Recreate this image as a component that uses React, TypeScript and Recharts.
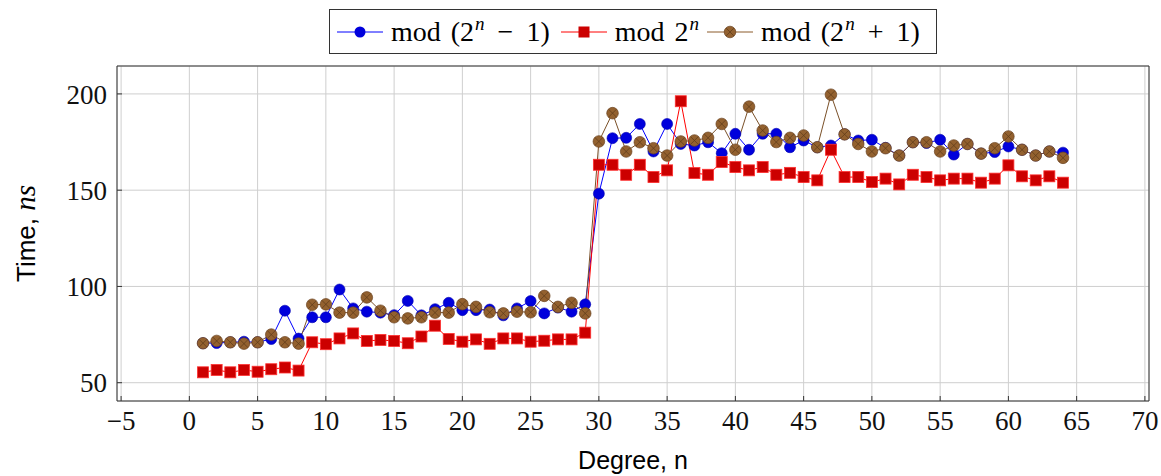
import { LineChart, Line, XAxis, YAxis, CartesianGrid } from 'recharts'

// degree n = 1..64
const degrees = [
  1, 2, 3, 4, 5, 6, 7, 8, 9, 10, 11, 12, 13, 14, 15, 16, 17, 18, 19, 20, 21, 22, 23, 24, 25, 26, 27, 28, 29, 30, 31, 32,
  33, 34, 35, 36, 37, 38, 39, 40, 41, 42, 43, 44, 45, 46, 47, 48, 49, 50, 51, 52, 53, 54, 55, 56, 57, 58, 59, 60, 61, 62, 63, 64,
]

// mod (2^n - 1)
const modMinus = [
  70.5, 70.6, 71, 71.3, 71, 72.7, 87.4, 72.9, 84, 84, 98.4, 88.6, 86.9, 86.4, 85.1, 92.5,
  85, 88.2, 91.5, 87.7, 87.7, 88, 85, 88.6, 92.4, 86, 89, 86.9, 90.7, 148.2, 177, 177.2,
  184.4, 170.1, 184.4, 174, 173.2, 174.9, 169.2, 179.3, 171, 179.3, 179.3, 172.3, 175.8, 172.3, 173.2, 179,
  175.8, 176.2, 172, 168, 174.9, 174.5, 176.2, 168.5, 174, 169, 169.8, 172.7, 171, 168, 170.1, 169.5,
]

// mod 2^n
const modPow = [
  55.4, 56.6, 55.4, 56.6, 55.7, 57, 57.9, 56.3, 71, 70, 73, 75.6, 71.7, 72.2, 71.7, 70.5,
  74, 79.6, 72.7, 71.3, 72.5, 70.2, 73, 73, 71.3, 71.8, 72.5, 72.5, 76, 163.2, 163.2, 158,
  163.2, 156.8, 160.3, 196.2, 158.9, 158, 164.6, 162, 160.3, 162, 158, 159, 156.8, 155.1, 171, 156.8,
  156.8, 154.2, 156, 153, 158, 156.8, 155.1, 156, 156, 153.9, 156, 162.9, 157.2, 155.1, 157.2, 153.9,
]

// mod (2^n + 1)
const modPlus = [
  70.5, 71.7, 71, 70.3, 71, 75, 71, 70.3, 90.5, 90.7, 86.4, 86.4, 94.3, 87.4, 84, 83.4,
  84, 86.4, 86.4, 90.8, 89.4, 86.6, 86, 86.9, 86.6, 95.1, 89.4, 91.5, 86, 175.3, 190, 170.1,
  174.9, 171.8, 168, 175.3, 175.8, 177.2, 184.4, 171, 193.4, 181, 175, 177.2, 178.4, 172.3, 199.6, 179,
  174, 170.1, 171.8, 168, 174.9, 174.9, 170.1, 173.2, 174, 169, 171.8, 177.9, 171, 168, 170.1, 166.8,
]

const xTicks = [-5, 0, 5, 10, 15, 20, 25, 30, 35, 40, 45, 50, 55, 60, 65, 70]
const yTicks = [50, 100, 150, 200]

const data = degrees.map((n, i) => ({ n, minus: modMinus[i], pow: modPow[i], plus: modPlus[i] }))

const tickFont = { fontFamily: '"Liberation Serif", serif', fontSize: 27, fill: '#111' }
const fmt = (v: number) => String(v).replace('-', '\u2212')

const BlueDot = (p: any) => (
  <circle key={p.key} cx={p.cx} cy={p.cy} r={5.5} fill="#0000dc" stroke="#0000b0" strokeWidth={0.6} />
)
const RedDot = (p: any) => (
  <rect key={p.key} x={p.cx - 5.5} y={p.cy - 5.5} width={11} height={11} fill="#cc0000" stroke="#ff3030" strokeWidth={0.8} />
)
const BrownDot = (p: any) => {
  const d = 3.9
  return (
    <g key={p.key}>
      <circle cx={p.cx} cy={p.cy} r={5.8} fill="#93612f" stroke="#6a4220" strokeWidth={0.7} />
      <path d={`M${p.cx - d},${p.cy - d}L${p.cx + d},${p.cy + d}M${p.cx - d},${p.cy + d}L${p.cx + d},${p.cy - d}`} stroke="#5c3918" strokeWidth={0.7} />
    </g>
  )
}

const legendText = {
  fontFamily: '"Liberation Serif", serif', fontSize: 28, color: '#000', whiteSpace: 'nowrap' as const,
  display: 'flex', alignItems: 'baseline',
}
const supStyle = { fontSize: 19, fontStyle: 'italic', position: 'relative' as const, top: -11, marginLeft: 1 }
const Sp = ({ w }: { w: number }) => <span style={{ display: 'inline-block', width: w }} />

function LegendItem({ color, kind, children }: { color: string; kind: string; children: any }) {
  return (
    <div style={{ display: 'flex', alignItems: 'center' }}>
      <svg width={46} height={20} style={{ marginRight: 8 }}>
        <line x1={0} y1={10} x2={46} y2={10} stroke={color} strokeWidth={1} />
        {kind === 'circle' && <circle cx={23} cy={10} r={5.5} fill="#0000dc" />}
        {kind === 'square' && <rect x={17.5} y={4.5} width={11} height={11} fill="#cc0000" />}
        {kind === 'otimes' && (
          <g>
            <circle cx={23} cy={10} r={5.8} fill="#93612f" stroke="#6a4220" strokeWidth={0.7} />
            <path d="M19.1,6.1L26.9,13.9M19.1,13.9L26.9,6.1" stroke="#5c3918" strokeWidth={0.7} />
          </g>
        )}
      </svg>
      <span style={legendText}>{children}</span>
    </div>
  )
}

export default function App() {
  return (
    <div style={{ position: 'absolute', left: 0, top: 0, width: 1161, height: 476, background: '#fff' }}>
      <LineChart width={1161} height={476} data={data} margin={{ top: 65, right: 11, bottom: 0, left: 0 }}>
        <CartesianGrid stroke="#cfcfcf" strokeWidth={1} />
        <XAxis
          dataKey="n"
          type="number"
          domain={[-5.3, 70.3]}
          ticks={xTicks}
          allowDataOverflow
          height={75}
          tickFormatter={fmt}
          tick={tickFont}
          tickSize={-5}
          tickMargin={15}
          stroke="#333"
          interval={0}
        />
        <XAxis xAxisId="top" orientation="top" type="number" domain={[-5.3, 70.3]} ticks={xTicks} allowDataOverflow height={1} tick={false} tickSize={-5} stroke="#333" interval={0} />
        <YAxis
          type="number"
          domain={[40.5, 214.5]}
          ticks={yTicks}
          allowDataOverflow
          width={117}
          tick={tickFont}
          tickSize={-5}
          tickMargin={15}
          stroke="#333"
          interval={0}
        />
        <YAxis yAxisId="right" orientation="right" type="number" domain={[40.5, 214.5]} ticks={yTicks} allowDataOverflow width={1} tick={false} tickSize={-5} stroke="#333" interval={0} />
        <Line dataKey="minus" stroke="#0000ff" strokeWidth={1} dot={BlueDot} isAnimationActive={false} />
        <Line dataKey="pow" stroke="#ff0000" strokeWidth={1} dot={RedDot} isAnimationActive={false} />
        <Line dataKey="plus" stroke="#7a5028" strokeWidth={1} dot={BrownDot} isAnimationActive={false} />
      </LineChart>

      {/* legend box */}
      <div
        style={{
          position: 'absolute', left: 329, top: 9, width: 608, height: 45,
          border: '1.3px solid #333', display: 'flex', alignItems: 'center', paddingLeft: 7, boxSizing: 'border-box',
        }}
      >
        <LegendItem color="#0000ff" kind="circle">
          mod<Sp w={10} />(2<span style={supStyle}>n</span><Sp w={13} />&minus;<Sp w={13} />1)
        </LegendItem>
        <Sp w={11} />
        <LegendItem color="#ff0000" kind="square">
          mod<Sp w={10} />2<span style={supStyle}>n</span>
        </LegendItem>
        <Sp w={8} />
        <LegendItem color="#8b5a2b" kind="otimes">
          mod<Sp w={10} />(2<span style={supStyle}>n</span><Sp w={13} />+<Sp w={13} />1)
        </LegendItem>
      </div>

      {/* axis titles */}
      <div
        style={{
          position: 'absolute', left: 533, top: 445, width: 200, textAlign: 'center',
          fontFamily: '"Liberation Sans", sans-serif', fontSize: 25, color: '#000', lineHeight: '30px',
        }}
      >
        Degree, n
      </div>
      <div
        style={{
          position: 'absolute', left: -75, top: 218, width: 200, textAlign: 'center', transform: 'rotate(-90deg)',
          fontFamily: '"Liberation Sans", sans-serif', fontSize: 26, color: '#000', lineHeight: '30px',
        }}
      >
        Time, <span style={{ fontFamily: '"Liberation Serif", serif', fontStyle: 'italic', fontSize: 29 }}>ns</span>
      </div>
    </div>
  )
}
